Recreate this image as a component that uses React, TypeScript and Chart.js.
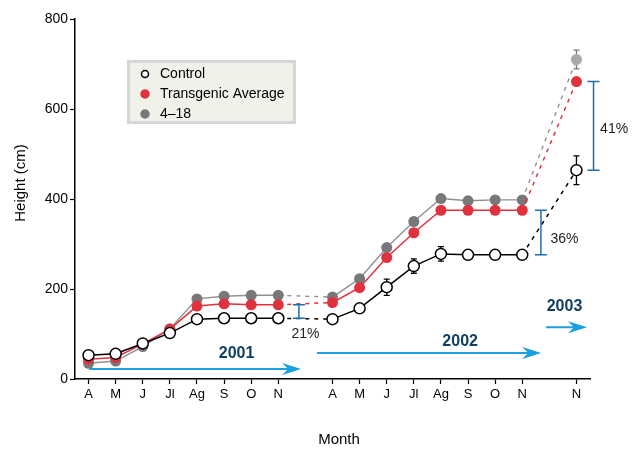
import React, { useEffect, useRef } from "react";
import { Chart, registerables } from "chart.js";

Chart.register(...registerables);

// Month categories: 2001 season, spacer, 2002 season, spacer, November 2003
const months = ["A", "M", "J", "Jl", "Ag", "S", "O", "N", "", "A", "M", "J", "Jl", "Ag", "S", "O", "N", "", "N"];

// Heights (cm)
const control = [53, 56, 79, 102, 133, 135, 135, 135, null, 133, 157, 204, 251, 278, 276, 276, 276, null, 464];
const transgenic = [44, 48, 78, 111, 162, 167, 165, 165, null, 170, 203, 270, 325, 375, 375, 375, 375, null, 661];
const line418 = [35, 40, 72, 111, 178, 184, 186, 186, null, 182, 223, 292, 350, 401, 396, 398, 398, null, 710];

// Error bar half-widths (cm)
const controlErr = [0, 0, 0, 0, 0, 0, 0, 0, null, 0, 0, 18, 16, 16, 0, 0, 0, null, 32];
const line418Err = [0, 0, 0, 0, 0, 0, 0, 0, null, 0, 0, 0, 0, 0, 0, 0, 0, null, 21];

// Y axis ticks
const yTicks = [0, 200, 400, 600, 800];

// Percent gains of transgenic average over control
const gainLabels = ["21%", "36%", "41%"];
const gainIndex = [7, 16, 18];

// Season labels
const seasons = ["2001", "2002", "2003"];

const FONT = "'Liberation Sans', Arial, Helvetica, sans-serif";
const RED = "#e0313f";
const GRAY = "#787878";
const LIGHT_GRAY = "#a9a9a9";
const BLUE_BRACKET = "#1f6fb2";
const BLUE_ARROW = "#1a9fe3";
const YEAR_TEXT = "#0f3f63";

// Lines bridging the blank spacer months are drawn dashed
const acrossGap = (ctx: any) =>
  ctx.p0.skip || ctx.p1.skip || ctx.p1DataIndex - ctx.p0DataIndex > 1;
const dashGap = (ctx: any) => (acrossGap(ctx) ? [4, 5] : undefined);

const errorBars = {
  id: "errorBars",
  beforeDatasetsDraw(chart: any) {
    const { ctx } = chart;
    const x = chart.scales.x;
    const y = chart.scales.y;
    const sets = [
      { vals: control, err: controlErr, color: "#000" },
      { vals: line418, err: line418Err, color: "#777" },
    ];
    ctx.save();
    ctx.lineWidth = 1.3;
    sets.forEach((s) => {
      ctx.strokeStyle = s.color;
      s.err.forEach((e, i) => {
        const v = s.vals[i];
        if (!e || v == null) return;
        const px = x.getPixelForValue(i);
        const top = y.getPixelForValue(v + e);
        const bot = y.getPixelForValue(v - e);
        ctx.beginPath();
        ctx.moveTo(px, top);
        ctx.lineTo(px, bot);
        ctx.moveTo(px - 3, top);
        ctx.lineTo(px + 3, top);
        ctx.moveTo(px - 3, bot);
        ctx.lineTo(px + 3, bot);
        ctx.stroke();
      });
    });
    ctx.restore();
  },
};

const arrow = (ctx: any, x0: number, x1: number, y: number) => {
  ctx.beginPath();
  ctx.moveTo(x0, y);
  ctx.lineTo(x1 - 12, y);
  ctx.stroke();
  ctx.beginPath();
  ctx.moveTo(x1, y);
  ctx.lineTo(x1 - 19, y - 6);
  ctx.lineTo(x1 - 13, y);
  ctx.lineTo(x1 - 19, y + 6);
  ctx.closePath();
  ctx.fill();
};

const annotations = {
  id: "annotations",
  afterDraw(chart: any) {
    const { ctx } = chart;
    const x = chart.scales.x;
    const y = chart.scales.y;
    ctx.save();

    // Gain brackets and percent labels
    const bracketX = [7.76, 16.69, 18.63];
    const labelPos = [
      [8.0, 100],
      [17.56, 311],
      [19.39, 556],
    ];
    ctx.strokeStyle = BLUE_BRACKET;
    ctx.lineWidth = 1.5;
    gainIndex.forEach((gi, k) => {
      const px = x.getPixelForValue(bracketX[k]);
      const top = y.getPixelForValue(transgenic[gi] as number);
      const bot = y.getPixelForValue(control[gi] as number);
      ctx.beginPath();
      ctx.moveTo(px, top);
      ctx.lineTo(px, bot);
      ctx.moveTo(px - 6, top);
      ctx.lineTo(px + 6, top);
      ctx.moveTo(px - 6, bot);
      ctx.lineTo(px + 6, bot);
      ctx.stroke();
    });
    ctx.fillStyle = "#222";
    ctx.font = `14px ${FONT}`;
    ctx.textAlign = "center";
    ctx.textBaseline = "middle";
    gainLabels.forEach((t, k) => {
      ctx.fillText(t, x.getPixelForValue(labelPos[k][0]), y.getPixelForValue(labelPos[k][1]));
    });

    // Season arrows
    const arrows = [
      [0.02, 7.84, 22],
      [8.43, 16.7, 58],
      [16.88, 18.39, 115],
    ];
    ctx.strokeStyle = BLUE_ARROW;
    ctx.fillStyle = BLUE_ARROW;
    ctx.lineWidth = 2;
    arrows.forEach(([a, b, v]) => {
      arrow(ctx, x.getPixelForValue(a), x.getPixelForValue(b), y.getPixelForValue(v));
    });

    // Season labels
    const yearPos = [
      [5.46, 57],
      [13.71, 84],
      [17.56, 161],
    ];
    ctx.font = `bold 16px ${FONT}`;
    ctx.fillStyle = YEAR_TEXT;
    seasons.forEach((t, k) => {
      ctx.fillText(t, x.getPixelForValue(yearPos[k][0]), y.getPixelForValue(yearPos[k][1]));
    });

    // Axis titles
    ctx.fillStyle = "#000";
    ctx.font = `15px ${FONT}`;
    ctx.fillText("Month", 339, 440);
    ctx.save();
    ctx.translate(21, 183);
    ctx.rotate(-Math.PI / 2);
    ctx.fillText("Height (cm)", 0, 0);
    ctx.restore();

    // Legend box
    const lx = 127, ly = 60, lw = 169, lh = 64;
    ctx.fillStyle = "#f0f2ea";
    ctx.fillRect(lx, ly, lw, lh);
    ctx.strokeStyle = "#d6d6d6";
    ctx.lineWidth = 3;
    ctx.strokeRect(lx + 1.5, ly + 1.5, lw - 3, lh - 3);
    const items = chart.data.datasets.map((d: any) => d.label);
    const fills = ["#fff", RED, GRAY];
    const strokes = ["#000", RED, GRAY];
    ctx.font = `14px ${FONT}`;
    ctx.textAlign = "left";
    items.forEach((label: string, k: number) => {
      const cy = 74 + k * 20;
      ctx.beginPath();
      ctx.arc(145, cy, k === 0 ? 3.5 : 4, 0, Math.PI * 2);
      ctx.fillStyle = fills[k];
      ctx.fill();
      ctx.lineWidth = 1.5;
      ctx.strokeStyle = strokes[k];
      ctx.stroke();
      ctx.fillStyle = "#000";
      ctx.fillText(label, 160, cy + 0.5);
    });

    ctx.restore();
  },
};

export default function App() {
  const ref = useRef<HTMLCanvasElement>(null);

  useEffect(() => {
    document.body.style.margin = "0";
    const canvas = ref.current;
    if (!canvas) return;
    Chart.defaults.font.family = FONT;

    const chart = new Chart(canvas, {
      type: "line",
      data: {
        labels: months,
        datasets: [
          {
            label: "Control",
            data: control,
            borderColor: "#000",
            backgroundColor: "#fff",
            pointBackgroundColor: "#fff",
            pointBorderColor: "#000",
            pointRadius: 5.5,
            pointBorderWidth: 1.5,
            borderWidth: 1.5,
            spanGaps: true,
            segment: { borderDash: dashGap },
          },
          {
            label: "Transgenic Average",
            data: transgenic,
            borderColor: RED,
            backgroundColor: RED,
            pointBackgroundColor: RED,
            pointBorderColor: RED,
            pointRadius: 5.5,
            pointBorderWidth: 0,
            borderWidth: 1.5,
            spanGaps: true,
            segment: { borderDash: dashGap },
          },
          {
            label: "4–18",
            data: line418,
            borderColor: "#909090",
            backgroundColor: GRAY,
            pointBackgroundColor: line418.map((_, i) => (i === 18 ? LIGHT_GRAY : GRAY)),
            pointBorderColor: line418.map((_, i) => (i === 18 ? LIGHT_GRAY : GRAY)),
            pointRadius: 5.5,
            pointBorderWidth: 0,
            borderWidth: 1.4,
            spanGaps: true,
            segment: { borderDash: dashGap },
          },
        ],
      },
      options: {
        responsive: false,
        animation: false,
        layout: { padding: { left: 0, top: 19, right: 49, bottom: 0 } },
        plugins: { legend: { display: false }, tooltip: { enabled: false } },
        scales: {
          x: {
            type: "category",
            offset: true,
            afterFit: (s: any) => {
              s.height = 70;
            },
            border: { color: "#000", width: 1.5 },
            grid: {
              drawOnChartArea: false,
              tickLength: 5,
              tickWidth: 1.2,
              tickColor: (c: any) => (months[c.index] ? "#000" : "rgba(0,0,0,0)"),
            },
            ticks: {
              autoSkip: false,
              maxRotation: 0,
              padding: 3,
              color: "#000",
              font: { size: 13, family: FONT },
            },
          },
          y: {
            min: 0,
            max: 800,
            afterFit: (s: any) => {
              s.width = 75;
            },
            afterBuildTicks: (s: any) => {
              s.ticks = yTicks.map((v) => ({ value: v }));
            },
            border: { color: "#000", width: 1.5 },
            grid: { drawOnChartArea: false, tickLength: 5, tickWidth: 1.2, tickColor: "#000" },
            ticks: { padding: 2, color: "#000", font: { size: 14, family: FONT } },
          },
        },
      },
      plugins: [errorBars, annotations],
    });
    return () => chart.destroy();
  }, []);

  return (
    <div style={{ width: 639, height: 449 }}>
      <canvas ref={ref} width={639} height={449} style={{ display: "block" }} />
    </div>
  );
}
